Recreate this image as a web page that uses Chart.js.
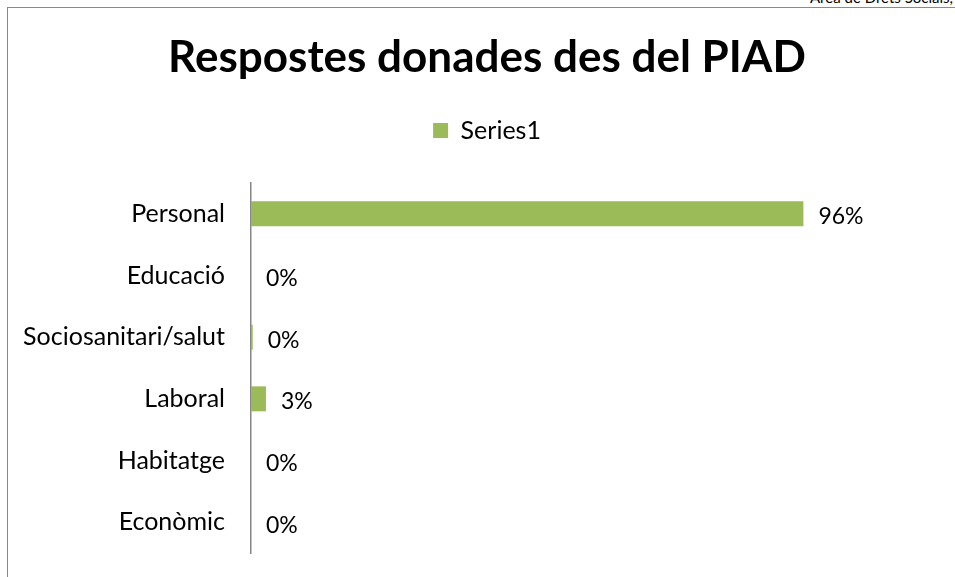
<!DOCTYPE html>
<html>
<head>
<meta charset="utf-8">
<script src="https://cdn.jsdelivr.net/npm/chart.js@4/dist/chart.umd.min.js"></script>
<style>
  html, body { margin: 0; padding: 0; background: #fff; overflow: hidden; }
  body { width: 955px; height: 577px; position: relative; }
  #marc { position: absolute; left: 7px; top: 7px; width: 1000px; height: 1000px; border: 1px solid #8a8a8a; }
  #capcalera { position: absolute; left: 810px; top: -12px; font: 15px Lato, sans-serif; color: #000; white-space: nowrap; }
  #grafic { position: absolute; left: 0; top: 0; }
</style>
</head>
<body>
<div id="capcalera">Àrea de Drets Socials, Justícia Global, Feminismes i LGTBI</div>
<div id="marc"></div>
<canvas id="grafic" width="955" height="577"></canvas>
<script>
// Dades del gràfic
const categories = ['Personal', 'Educació', 'Sociosanitari/salut', 'Laboral', 'Habitatge', 'Econòmic'];
const valors = [96, 0, 0.3, 2.6, 0, 0];
const nomSerie = 'Series1';
const titol = 'Respostes donades des del PIAD';

// Etiquetes de valor al final de cada barra
const etiquetesPlugin = {
    id: 'etiquetes',
    afterDatasetsDraw(chart) {
        const ctx = chart.ctx;
        const meta = chart.getDatasetMeta(0);
        ctx.save();
        ctx.font = '23px Lato';
        ctx.fillStyle = '#000';
        ctx.textAlign = 'left';
        ctx.textBaseline = 'middle';
        meta.data.forEach((barra, i) => {
            ctx.fillText(Math.round(valors[i]) + '%', barra.x + 15, barra.y + 3);
        });
        ctx.restore();
    }
};

// Espai extra sota la llegenda
const espaiLlegenda = {
    id: 'espaiLlegenda',
    beforeInit(chart) {
        const fitOriginal = chart.legend.fit;
        chart.legend.fit = function () {
            fitOriginal.bind(chart.legend)();
            this.height += 30;
        };
    }
};

new Chart(document.getElementById('grafic'), {
    type: 'bar',
    data: {
        labels: categories,
        datasets: [{
            label: nomSerie,
            data: valors,
            backgroundColor: '#9bbb59',
            borderWidth: 0,
            barPercentage: 0.45,
            categoryPercentage: 0.9
        }]
    },
    options: {
        indexAxis: 'y',
        responsive: false,
        animation: false,
        layout: { padding: { left: 21, right: 2, top: 10, bottom: 24 } },
        plugins: {
            title: {
                display: true,
                text: titol,
                color: '#000',
                font: { family: 'Lato', size: 44, weight: 'bold', lineHeight: 1.0 },
                padding: { top: 26, bottom: 28 }
            },
            legend: {
                display: true,
                position: 'top',
                labels: {
                    color: '#000',
                    font: { family: 'Lato', size: 25 },
                    boxWidth: 15,
                    boxHeight: 15,
                    padding: 10
                }
            },
            tooltip: { enabled: false }
        },
        scales: {
            x: {
                display: false,
                min: 0,
                max: 122
            },
            y: {
                grid: { display: false, drawTicks: false },
                border: { display: true, color: '#868686', width: 1.5 },
                ticks: {
                    color: '#000',
                    font: { family: 'Lato', size: 25 },
                    padding: 26
                },
                afterFit(scale) {
                    scale.width = 230;
                    scale.paddingTop = 0;
                    scale.paddingBottom = 0;
                }
            }
        }
    },
    plugins: [etiquetesPlugin, espaiLlegenda]
});
</script>
</body>
</html>
